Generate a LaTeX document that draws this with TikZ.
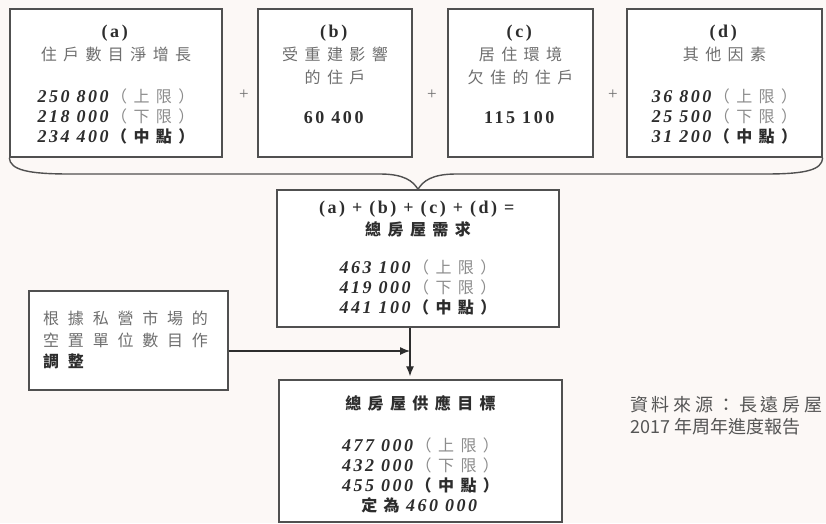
\documentclass[tikz,border=0pt]{standalone}
\usepackage{fontspec}
\setmainfont[LetterSpace=14]{Liberation Serif}
\newfontfamily\cjk[LetterSpace=40]{Noto Sans CJK TC}
\newfontfamily\cjkwide[LetterSpace=55]{Noto Sans CJK TC}
\newfontfamily\cjksrc[LetterSpace=21]{Noto Sans CJK TC}
\newfontfamily\cjkplain{Noto Sans CJK TC}
\usetikzlibrary{arrows.meta}
\definecolor{paper}{RGB}{252,248,246}
\definecolor{edge}{RGB}{80,80,80}
\definecolor{ink}{RGB}{45,45,45}
\definecolor{faded}{RGB}{140,140,140}
\definecolor{soft}{RGB}{110,110,110}
\definecolor{note}{RGB}{85,85,85}
\newcommand\bound[2]{\textbf{\textit{#1}}{\cjk\fontsize{16}{20}\selectfont\color{faded}（#2）}}
\newcommand\midpt[2]{\textbf{\textit{#1}}{\cjk\fontsize{16}{20}\selectfont\bfseries（#2）}}
\newcommand\head[1]{{\cjk\fontsize{16}{20}\selectfont\color{soft}#1}}
\tikzset{
  box/.style={rectangle, draw=edge, line width=1.4pt, fill=white, inner sep=0pt},
  lines/.style={inner sep=0pt, align=center, anchor=north, text=ink, font=\fontsize{18}{20}\selectfont},
  plus/.style={inner sep=0pt, text=soft, font=\fontsize{17}{17}\selectfont},
  link/.style={draw=ink, line width=1.2pt, -{Latex[length=10pt,width=8pt]}}
}
\begin{document}
\begin{tikzpicture}[x=1pt, y=-1pt]
\fill[paper] (0,0) rectangle (826,523);
\useasboundingbox (0,0) rectangle (826,523);
% the four parts on top
\node [box, minimum width=212, minimum height=148] (a) at (116,83) {};
\node [box, minimum width=154, minimum height=148] (b) at (335,83) {};
\node [box, minimum width=145, minimum height=148] (c) at (520.5,83) {};
\node [box, minimum width=195, minimum height=148] (d) at (724.5,83) {};
\node [lines] (atext) at (116,25) {\textbf{(a)}\\[3pt] \head{住戶數目淨增長}\\[22pt]
  \bound{250 800}{上限}\\ \bound{218 000}{下限}\\ \midpt{234 400}{中點}};
\node [lines] (btext) at (335,25) {\textbf{(b)}\\[3pt] \head{受重建影響}\\[3pt] \head{的住戶}\\[20pt]
  \textbf{60 400}};
\node [lines] (ctext) at (520.5,25) {\textbf{(c)}\\[3pt] \head{居住環境}\\[3pt] \head{欠佳的住戶}\\[20pt]
  \textbf{115 100}};
\node [lines] (dtext) at (724.5,25) {\textbf{(d)}\\[3pt] \head{其他因素}\\[22pt]
  \bound{36 800}{上限}\\ \bound{25 500}{下限}\\ \midpt{31 200}{中點}};
\node [plus] (plusab) at (244,95) {+};
\node [plus] (plusbc) at (432,95) {+};
\node [plus] (pluscd) at (613,95) {+};
% total demand and supply target
\node [box, minimum width=282, minimum height=137] (sum) at (418,258.5) {};
\node [lines] (sumtext) at (418,201) {\textbf{(a) + (b) + (c) + (d) =}\\[2pt]
  {\cjk\fontsize{16}{20}\selectfont\bfseries 總房屋需求}\\[18pt]
  \bound{463 100}{上限}\\ \bound{419 000}{下限}\\ \midpt{441 100}{中點}};
\node [box, minimum width=199, minimum height=99] (adj) at (128.5,340.5) {};
\node [lines, align=left, anchor=north west, font=\fontsize{16}{21.5}\selectfont, text=soft]
  (adjtext) at (43,311) {\cjkwide 根據私營市場的\\ \cjkwide 空置單位數目作\\ {\cjkwide\bfseries\color{ink}調整}};
\node [box, minimum width=283, minimum height=142] (target) at (420.5,451) {};
\node [lines] (targettext) at (420.5,395) {{\cjk\fontsize{16}{20}\selectfont\bfseries 總房屋供應目標}\\[22pt]
  \bound{477 000}{上限}\\ \bound{432 000}{下限}\\ \midpt{455 000}{中點}\\
  {\cjk\fontsize{16}{20}\selectfont\bfseries 定為}\textbf{\textit{460 000}}};
% brace joining the four parts
\draw [edge, line width=1.4pt] (a.south west) .. controls (10,170) and (28,174) .. (70,174)
  -- (380,174) .. controls (404,174) and (413,181) .. (sum.north)
  .. controls (423,181) and (432,174) .. (456,174) -- (765,174)
  .. controls (806,174) and (822,170) .. (d.south east);
% arrows into the target
\coordinate (join) at (410,351);
\draw [link, -] (sum.south -| join) -- (join);
\draw [link] (adj.east |- join) -- (join);
\draw [link, shorten >=3pt] (join) -- (target.north -| join);
\node [inner sep=0pt, anchor=north west, align=left, text=note, font=\fontsize{18}{22}\selectfont]
  (source) at (630,396) {\cjksrc 資料來源：長遠房屋\\ \cjkplain 2017 年周年進度報告};
\end{tikzpicture}
\end{document}
